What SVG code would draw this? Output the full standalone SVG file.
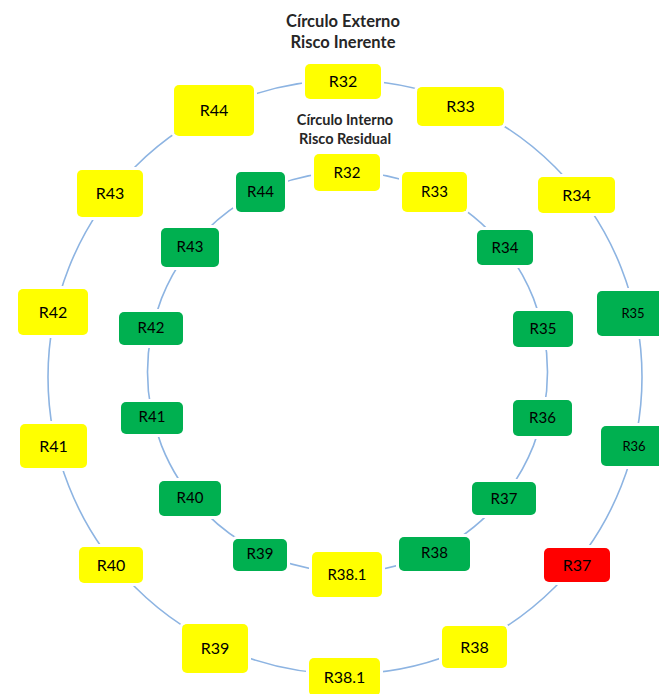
<svg xmlns="http://www.w3.org/2000/svg" width="659" height="694" viewBox="0 0 659 694">
<style>
.t{font-family:Lato,"Liberation Sans",sans-serif;fill:#000;text-anchor:middle}
.title{font-weight:bold;fill:#262626}
.n{font-size:16px}
.s{font-size:15px}
.y{fill:#FFFF00}
.g{fill:#00B050}
.r{fill:#FF0000}
.halo{fill:none;stroke:#fff;stroke-width:3}
.c{fill:none;stroke:#8DB4E2;stroke-width:1.6}
</style>
<rect width="659" height="694" fill="#fff"/>
<g id="connectors">
<circle class="c" cx="345" cy="377" r="297"/>
<circle class="c" cx="347.5" cy="372" r="200"/>
</g>
<g id="titles">
<text class="t title" x="343" y="27" font-size="16.5">Círculo Externo</text>
<text class="t title" x="343" y="48" font-size="16.5">Risco Inerente</text>
<text class="t title" x="345" y="125" font-size="14.5">Círculo Interno</text>
<text class="t title" x="345" y="144" font-size="14.5">Risco Residual</text>
</g>
<!-- outer nodes -->
<g id="o-R32"><rect class="halo" x="303.5" y="62.5" width="79" height="38" rx="6"/><rect class="y" x="305" y="64" width="76" height="35" rx="5"/><text class="t n" x="343" y="81.5" dy="0.36em">R32</text></g>
<g id="o-R33"><rect class="halo" x="415.5" y="85.5" width="90" height="42" rx="6"/><rect class="y" x="417" y="87" width="87" height="39" rx="5"/><text class="t n" x="460.5" y="106.5" dy="0.36em">R33</text></g>
<g id="o-R34"><rect class="halo" x="536.5" y="175.5" width="80" height="39" rx="6"/><rect class="y" x="538" y="177" width="77" height="36" rx="5"/><text class="t n" x="576.5" y="195" dy="0.36em">R34</text></g>
<g id="o-R35"><rect class="halo" x="595.5" y="289.5" width="75" height="48" rx="6"/><rect class="g" x="597" y="291" width="72" height="45" rx="5"/><text class="t" font-size="13" x="633" y="313.5" dy="0.36em">R35</text></g>
<g id="o-R36"><rect class="halo" x="599.5" y="424.5" width="69" height="43" rx="6"/><rect class="g" x="601" y="426" width="66" height="40" rx="5"/><text class="t" font-size="13" x="634" y="446" dy="0.36em">R36</text></g>
<g id="o-R37"><rect class="halo" x="542.5" y="546.5" width="69" height="37" rx="6"/><rect class="r" x="544" y="548" width="66" height="34" rx="5"/><text class="t n" x="577" y="565" dy="0.36em">R37</text></g>
<g id="o-R38"><rect class="halo" x="440.5" y="624.5" width="68" height="45" rx="6"/><rect class="y" x="442" y="626" width="65" height="42" rx="5"/><text class="t n" x="474.5" y="647" dy="0.36em">R38</text></g>
<g id="o-R38.1"><rect class="halo" x="307.5" y="656.5" width="74" height="41" rx="6"/><rect class="y" x="309" y="658" width="71" height="38" rx="5"/><text class="t n" x="344.5" y="677" dy="0.36em">R38.1</text></g>
<g id="o-R39"><rect class="halo" x="180.5" y="622.5" width="69" height="52" rx="6"/><rect class="y" x="182" y="624" width="66" height="49" rx="5"/><text class="t n" x="215" y="648.5" dy="0.36em">R39</text></g>
<g id="o-R40"><rect class="halo" x="77.5" y="545.5" width="67" height="39" rx="6"/><rect class="y" x="79" y="547" width="64" height="36" rx="5"/><text class="t n" x="111" y="565" dy="0.36em">R40</text></g>
<g id="o-R41"><rect class="halo" x="18.5" y="422.5" width="70" height="47" rx="6"/><rect class="y" x="20" y="424" width="67" height="44" rx="5"/><text class="t n" x="53.5" y="446" dy="0.36em">R41</text></g>
<g id="o-R42"><rect class="halo" x="16.5" y="287.5" width="73" height="49" rx="6"/><rect class="y" x="18" y="289" width="70" height="46" rx="5"/><text class="t n" x="53" y="312" dy="0.36em">R42</text></g>
<g id="o-R43"><rect class="halo" x="75.5" y="168.5" width="69" height="50" rx="6"/><rect class="y" x="77" y="170" width="66" height="47" rx="5"/><text class="t n" x="110" y="193.5" dy="0.36em">R43</text></g>
<g id="o-R44"><rect class="halo" x="172.5" y="83.5" width="83" height="54" rx="6"/><rect class="y" x="174" y="85" width="80" height="51" rx="5"/><text class="t n" x="214" y="110.5" dy="0.36em">R44</text></g>
<!-- inner nodes -->
<g id="i-R32"><rect class="halo" x="312.5" y="152.5" width="69" height="40" rx="6"/><rect class="y" x="314" y="154" width="66" height="37" rx="5"/><text class="t s" x="347" y="172.5" dy="0.36em">R32</text></g>
<g id="i-R33"><rect class="halo" x="400.5" y="170.5" width="68" height="43" rx="6"/><rect class="y" x="402" y="172" width="65" height="40" rx="5"/><text class="t s" x="434.5" y="192" dy="0.36em">R33</text></g>
<g id="i-R34"><rect class="halo" x="475.5" y="228.5" width="59" height="38" rx="6"/><rect class="g" x="477" y="230" width="56" height="35" rx="5"/><text class="t s" x="505" y="247.5" dy="0.36em">R34</text></g>
<g id="i-R35"><rect class="halo" x="511.5" y="309.5" width="63" height="39" rx="6"/><rect class="g" x="513" y="311" width="60" height="36" rx="5"/><text class="t s" x="543" y="329" dy="0.36em">R35</text></g>
<g id="i-R36"><rect class="halo" x="511.5" y="398.5" width="62" height="39" rx="6"/><rect class="g" x="513" y="400" width="59" height="36" rx="5"/><text class="t s" x="542.5" y="418" dy="0.36em">R36</text></g>
<g id="i-R37"><rect class="halo" x="470.5" y="480.5" width="67" height="36" rx="6"/><rect class="g" x="472" y="482" width="64" height="33" rx="5"/><text class="t s" x="504" y="498.5" dy="0.36em">R37</text></g>
<g id="i-R38"><rect class="halo" x="397.5" y="535.5" width="74" height="37" rx="6"/><rect class="g" x="399" y="537" width="71" height="34" rx="5"/><text class="t s" x="434.5" y="553" dy="0.36em">R38</text></g>
<g id="i-R38.1"><rect class="halo" x="310.5" y="550.5" width="73" height="48" rx="6"/><rect class="y" x="312" y="552" width="70" height="45" rx="5"/><text class="t s" x="347" y="574.5" dy="0.36em">R38.1</text></g>
<g id="i-R39"><rect class="halo" x="231.5" y="537.5" width="57" height="35" rx="6"/><rect class="g" x="233" y="539" width="54" height="32" rx="5"/><text class="t s" x="260" y="554" dy="0.36em">R39</text></g>
<g id="i-R40"><rect class="halo" x="157.5" y="479.5" width="65" height="38" rx="6"/><rect class="g" x="159" y="481" width="62" height="35" rx="5"/><text class="t s" x="190" y="498" dy="0.36em">R40</text></g>
<g id="i-R41"><rect class="halo" x="119.5" y="400.5" width="65" height="35" rx="6"/><rect class="g" x="121" y="402" width="62" height="32" rx="5"/><text class="t s" x="152" y="417" dy="0.36em">R41</text></g>
<g id="i-R42"><rect class="halo" x="117.5" y="310.5" width="67" height="36" rx="6"/><rect class="g" x="119" y="312" width="64" height="33" rx="5"/><text class="t s" x="151" y="328" dy="0.36em">R42</text></g>
<g id="i-R43"><rect class="halo" x="159.5" y="226.5" width="61" height="42" rx="6"/><rect class="g" x="161" y="228" width="58" height="39" rx="5"/><text class="t s" x="190" y="247" dy="0.36em">R43</text></g>
<g id="i-R44"><rect class="halo" x="234.5" y="170.5" width="52" height="43" rx="6"/><rect class="g" x="236" y="172" width="49" height="40" rx="5"/><text class="t s" x="260.5" y="191.5" dy="0.36em">R44</text></g>
</svg>
